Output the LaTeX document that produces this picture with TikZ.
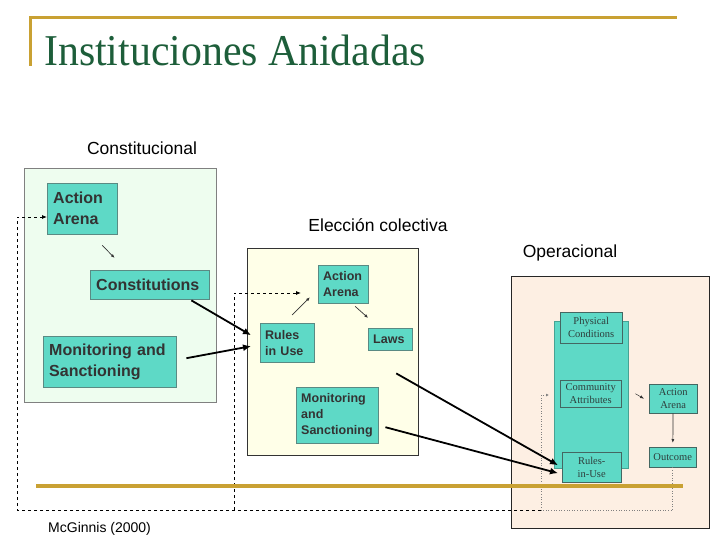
\documentclass[tikz,border=0pt]{standalone}
\usepackage{fontspec}
\setmainfont{Liberation Serif}
\setsansfont{Liberation Sans}
\usepackage{tikz}
\usetikzlibrary{arrows.meta,calc,positioning}
\definecolor{TitleGreen}{HTML}{1D5E3A}
\definecolor{RuleGold}{HTML}{C9A133}
\definecolor{TealFill}{HTML}{5ED9C6}
\definecolor{TealEdge}{HTML}{5A8A83}
\definecolor{ConstFill}{HTML}{EEFDEF}
\definecolor{ChoiceFill}{HTML}{FFFFE8}
\definecolor{OperFill}{HTML}{FDEFE3}
\definecolor{BoxText}{HTML}{333333}
\definecolor{OperText}{HTML}{2E3E3C}

\begin{document}
\begin{tikzpicture}[x=1pt,y=-1pt,
  lvlframe/.style={draw=#1,line width=.9pt,anchor=north west,inner sep=0pt},
  lvllabel/.style={anchor=base,inner sep=0pt,font=\sffamily\fontsize{17.5}{20}\selectfont},
  ruleitem/.style={draw=TealEdge,fill=TealFill,anchor=north west,align=left,inner xsep=6pt,inner ysep=3pt,
    text=BoxText,font=\sffamily\bfseries\fontsize{16}{21}\selectfont},
  smallitem/.style={ruleitem,inner xsep=5pt,font=\sffamily\bfseries\fontsize{12.5}{16}\selectfont},
  operitem/.style={draw=TealEdge!75!black,fill=TealFill,anchor=north west,align=center,inner sep=0pt,
    text=OperText,font=\fontsize{10.5}{13}\selectfont},
  bigarrow/.style={line width=1.8pt,-{Latex[length=8pt,width=7pt]}},
  thinarrow/.style={line width=.7pt,draw=BoxText,-{Latex[length=4pt,width=3pt]}},
  dashloop/.style={dashed,line width=.8pt,-{Latex[length=5pt,width=4pt]}},
  dotloop/.style={dotted,line width=.6pt,draw=gray,-{Latex[length=3pt,width=3pt]}}]
  \useasboundingbox[fill=white] (0,0) rectangle (720,540);

  % title
  \draw[RuleGold,line width=3pt] (30,66) -- (30,18) -- (677,18);
  \node[anchor=base west,inner sep=0pt,text=TitleGreen,font=\fontsize{44}{44}\selectfont] (title) at (44,66) {\scalebox{.95}[1]{Instituciones Anidadas}};

  % the three levels
  \node[lvlframe=gray,fill=ConstFill,minimum width=192pt,minimum height=234pt] (constbox) at (24,168) {};
  \node[lvlframe=black!80,fill=ChoiceFill,minimum width=171pt,minimum height=207pt] (choicebox) at (247,248) {};
  \node[lvlframe=black!85,fill=OperFill,minimum width=198pt,minimum height=252pt] (operbox) at (511,276) {};
  \node[lvllabel] (constlbl) at (142,155) {Constitucional};
  \node[lvllabel] (choicelbl) at (378,231) {Elección colectiva};
  \node[lvllabel] (operlbl) at (570,257) {Operacional};

  % constitutional level
  \node[ruleitem,text width=58pt,minimum height=51pt] (arena1) at (47,183) {Action\\Arena};
  \node[ruleitem,text width=107pt,minimum height=29pt] (const1) at (90,270) {Constitutions};
  \node[ruleitem,text width=121pt,minimum height=51pt] (mon1) at (43,336) {Monitoring and\\Sanctioning};

  % collective choice level
  \node[smallitem,text width=40pt,minimum height=38pt] (arena2) at (318,265) {Action\\Arena};
  \node[smallitem,text width=44pt,minimum height=39pt] (rules2) at (260,323) {Rules\\in Use};
  \node[smallitem,text width=34pt,minimum height=22pt] (laws2) at (368,328) {Laws};
  \node[smallitem,text width=72pt,minimum height=56pt] (mon2) at (296,387) {Monitoring\\and\\Sanctioning};

  % operational level
  \node[fill=TealFill,draw=TealFill!75!black,anchor=north west,inner sep=0pt,minimum width=74pt,minimum height=147pt] (column) at (554,321) {};
  \node[operitem,text width=62pt,minimum height=31pt] (phys3) at (560,312) {Physical\\Conditions};
  \node[operitem,text width=61pt,minimum height=27pt] (comm3) at (560,380) {Community\\Attributes};
  \node[operitem,text width=59pt,minimum height=30pt] (rin3) at (562,452) {Rules-\\in-Use};
  \node[operitem,text width=48pt,minimum height=29pt] (arena3) at (649,384) {Action\\Arena};
  \node[operitem,text width=47pt,minimum height=20pt] (outcome) at (649,447) {Outcome};

  \coordinate (loopcorner) at (541,510);
  \coordinate (leftturn) at (17,217);
  \coordinate (midturn) at (234,293);
  \coordinate (comin) at (549,395);

  % feedback loops
  \draw[dotloop] (outcome.south) |- (loopcorner) |- (comin);
  \draw[dashloop] (loopcorner) -| (leftturn) -- (arena1.west |- leftturn);
  \draw[dashloop] (midturn |- loopcorner) -- (midturn) -- ($(arena2.west |- midturn)+(-17,0)$);

  \draw[RuleGold,line width=3.5pt] (36,486) -- (683,486);

  % links inside the levels
  \draw[thinarrow] ($(arena1.south)+(20,11)$) -- ($(const1.north)+(-35,-12)$);
  \draw[thinarrow] ($(rules2.north)+(5,-8)$) -- ($(arena2.west)+(-8,13)$);
  \draw[thinarrow] ($(arena2.south)+(12,3)$) -- ($(laws2.north)+(-22,-10)$);
  \draw[thinarrow,line width=.5pt] ($(comm3.east)+(14,0)$) -- ($(arena3.west)+(-5,0)$);
  \draw[thinarrow,shorten >=4pt] (arena3) -- (outcome);

  % links between the levels
  \draw[bigarrow] ($(const1.south east)+(-18,1)$) -- ($(rules2.west)+(-9,-7.5)$);
  \draw[bigarrow] ($(mon1.east)+(10,-3.5)$) -- ($(rules2.west)+(-9,3.5)$);
  \draw[bigarrow] ($(laws2.south)+(6,23)$) -- ($(rin3.west)+(-4,-2)$);
  \draw[bigarrow] ($(mon2.east)+(7,12)$) -- ($(rin3.west)+(-4,6)$);

  \node[anchor=base west,inner sep=0pt,font=\sffamily\fontsize{14}{16}\selectfont] (source) at (48,532) {McGinnis (2000)};
\end{tikzpicture}
\end{document}
